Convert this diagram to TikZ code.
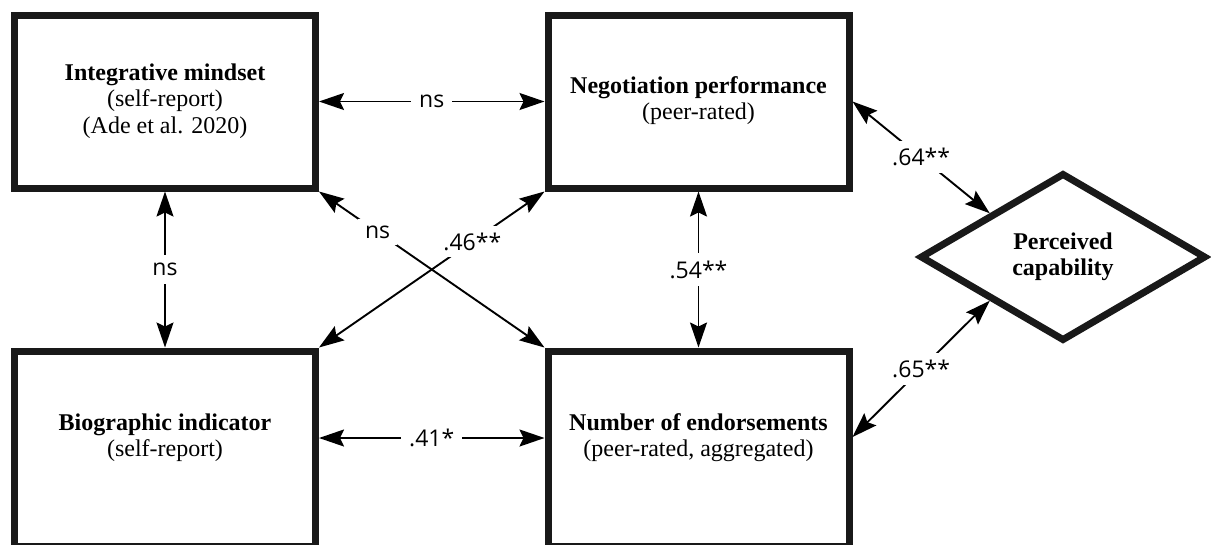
\documentclass[tikz,border=0pt]{standalone}
\usepackage{fontspec}
\setmainfont{Liberation Serif}
\newfontfamily\labfont{Open Sans}
\usetikzlibrary{arrows.meta,shapes.geometric,calc}
\begin{document}
\begin{tikzpicture}[x=1pt,y=-1pt,
  boxnode/.style={draw=black!90, line width=7pt, rectangle, minimum width=301pt, inner sep=0pt},
  boxtext/.style={align=center, inner sep=0pt, font=\fontsize{24}{26.5}\selectfont},
  conn/.style={line width=1.9pt, {Stealth[length=25pt,width=17pt,inset=4pt]}-{Stealth[length=25pt,width=17pt,inset=4pt]}},
  lab/.style={fill=white, inner xsep=8pt, inner ysep=8pt, font=\labfont\fontsize{23}{23}\selectfont}]
\useasboundingbox (0,0) rectangle (1211,544);
\clip (0,0) rectangle (1211,544);

% boxes
\node[boxnode, minimum height=173pt] (b1) at (165,101.5) {};
\node[boxnode, minimum height=173pt] (b2) at (698.5,101.5) {};
\node[boxnode, minimum height=195pt] (b3) at (165,448.5) {};
\node[boxnode, minimum height=195pt] (b4) at (698.5,448.5) {};

% texts
\node[boxtext] (t1) at (165,101) {\textbf{Integrative mindset}\\(self-report)\\(Ade et al. 2020)};
\node[boxtext] (t2) at (698.5,100.5) {\textbf{Negotiation performance}\\(peer-rated)};
\node[boxtext] (t3) at (165,437.5) {\textbf{Biographic indicator}\\(self-report)};
\node[boxtext] (t4) at (698.5,437.5) {\textbf{Number of endorsements}\\(peer-rated, aggregated)};

% diamond
\node[diamond, draw=black!90, line width=7pt, minimum width=286pt, minimum height=168pt, inner sep=0pt, align=center, font=\bfseries\fontsize{24}{25.5}\selectfont] (d) at (1063,257) {Perceived\\capability};

% connectors
\draw[conn] (b1.east) -- (b2.west) node[lab, midway] {ns};
\draw[conn] (b3.east |- 0,438) -- (b4.west |- 0,438) node[lab, midway] {.41*};
\draw[conn] (b1.south) -- (b3.north) node[lab, midway] {ns};
\draw[conn] (b2.south) -- (b4.north) node[lab, midway] {.54**};
\draw[conn] (b1.south east) -- (b4.north west) node[lab, pos=0.26, inner sep=7pt] {ns};
\draw[conn] (b3.north east) -- (b2.south west) node[lab, pos=0.68, inner sep=7pt] {.46**};
\draw[conn] (b2.east) -- (d.north west) node[lab, midway, inner sep=7pt] {.64**};
\draw[conn] (b4.east |- 0,437) -- (d.south west) node[lab, midway, inner sep=7pt] {.65**};
\end{tikzpicture}
\end{document}
